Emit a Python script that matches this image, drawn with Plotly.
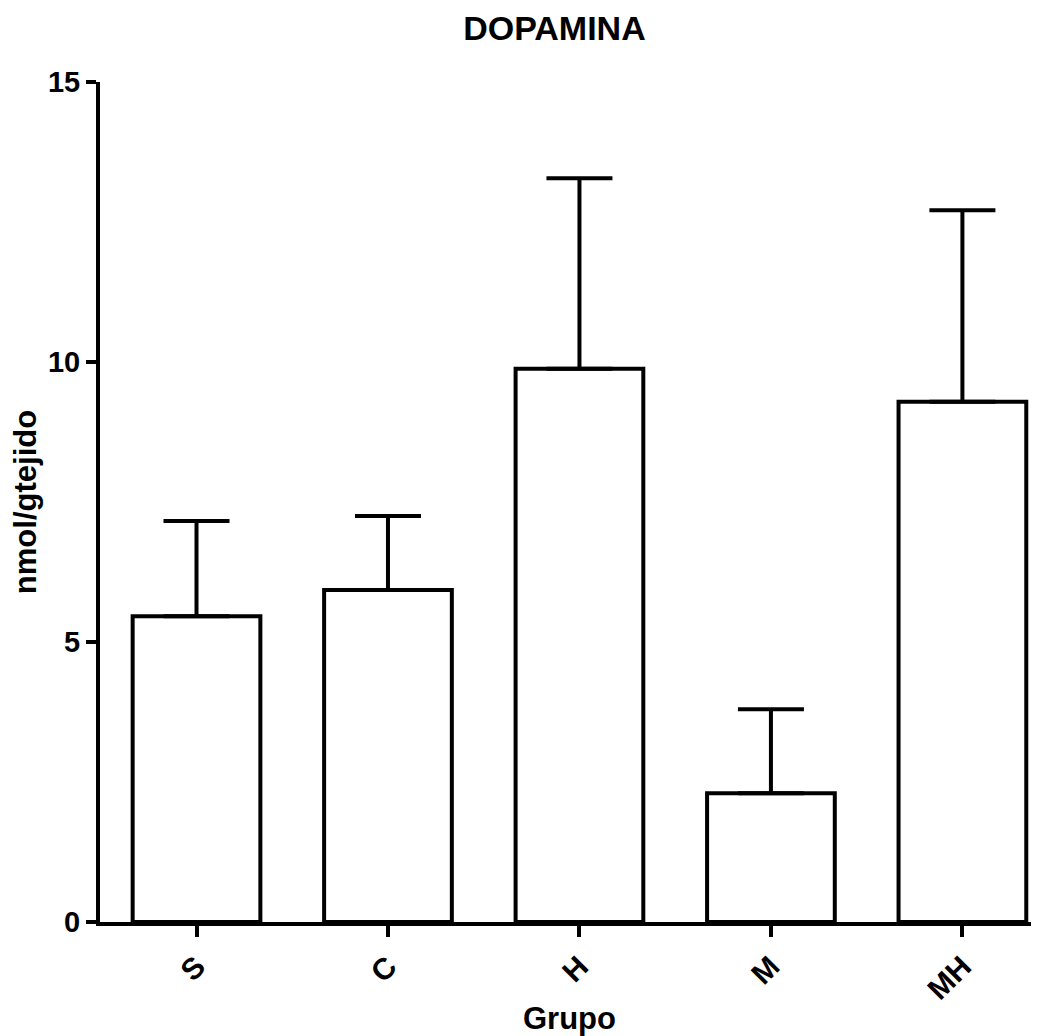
import plotly.graph_objects as go

categories = ["S", "C", "H", "M", "MH"]
means = [5.46, 5.93, 9.88, 2.30, 9.29]
sem = [1.70, 1.32, 3.40, 1.50, 3.42]
y_ticks = [0, 5, 10, 15]

FONT = "Liberation Sans, Arial, sans-serif"

fig = go.Figure()
fig.add_trace(go.Bar(
    x=list(range(len(categories))),
    y=means,
    width=0.667,
    marker=dict(color="white", line=dict(color="black", width=4)),
    error_y=dict(type="data", array=sem, arrayminus=[0] * len(sem), symmetric=False,
                 color="black", thickness=4, width=33),
    showlegend=False,
))

fig.update_layout(
    width=1031, height=1028,
    margin=dict(l=92, r=0, t=74, b=114),
    paper_bgcolor="white", plot_bgcolor="white",
    title=dict(text="<b>DOPAMINA</b>", x=0.530, xanchor="center", y=0.98, yanchor="middle",
               font=dict(family=FONT, size=34, color="black")),
    bargap=0.33,
)
fig.update_xaxes(
    range=[-0.504, 4.40], automargin=False,
    tickmode="array", tickvals=list(range(len(categories))), ticktext=[f"<b>{c}</b>" for c in categories],
    tickangle=-45, ticks="outside", ticklen=11, tickwidth=4, tickcolor="black",
    showline=True, linecolor="black", linewidth=4, showgrid=False, zeroline=False,
    tickfont=dict(family=FONT, size=30, color="black"),
    title=dict(text="<b>Grupo</b>", font=dict(family=FONT, size=31, color="black"), standoff=15),
)
fig.update_yaxes(
    range=[0, 15], automargin=False,
    tickmode="array", tickvals=y_ticks, ticktext=[f"<b>{t}</b>" for t in y_ticks],
    ticks="outside", ticklen=10, tickwidth=4, tickcolor="black",
    showline=True, linecolor="black", linewidth=4, showgrid=False, zeroline=False,
    tickfont=dict(family=FONT, size=29, color="black"),
    title=dict(text="<b>nmol/gtejido</b>", font=dict(family=FONT, size=31, color="black"), standoff=6),
)

fig.write_html("out.html")
